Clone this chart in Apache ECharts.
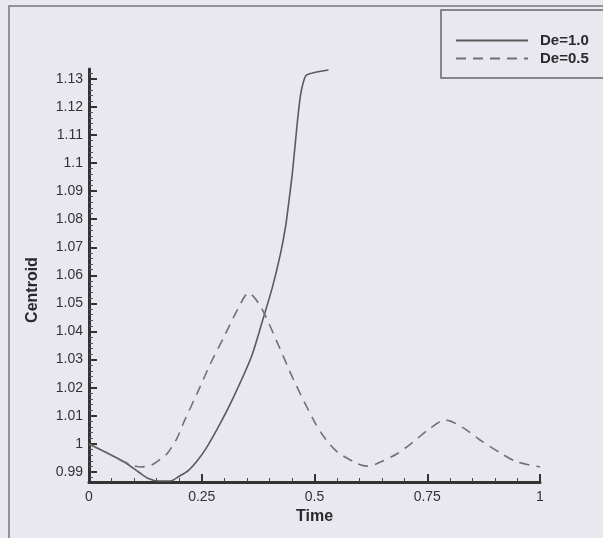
<!DOCTYPE html>
<html>
<head>
<meta charset="utf-8">
<script src="https://cdn.jsdelivr.net/npm/echarts@6/dist/echarts.min.js"></script>
<style>
html,body{margin:0;padding:0;background:#e9e8f1;}
#c{width:603px;height:538px;}
</style>
</head>
<body>
<div id="c"></div>
<script>
// De=1.0 (solid)
const timeDe10 = [0, 0.05, 0.08, 0.11, 0.13, 0.155, 0.18, 0.20, 0.22, 0.24, 0.26, 0.285, 0.32, 0.36, 0.385, 0.407, 0.425, 0.436, 0.443, 0.451, 0.462, 0.469, 0.476, 0.482, 0.50, 0.531];
const valDe10  = [1.000, 0.9960, 0.9934, 0.9900, 0.9878, 0.9868, 0.9868, 0.9885, 0.9905, 0.9940, 0.9985, 1.0055, 1.0165, 1.0310, 1.0440, 1.0560, 1.0680, 1.0775, 1.0860, 1.0965, 1.1146, 1.1242, 1.1292, 1.1313, 1.1322, 1.1331];
// De=0.5 (dashed)
const timeDe05 = [0, 0.04, 0.07, 0.095, 0.115, 0.14, 0.16, 0.174, 0.195, 0.211, 0.240, 0.270, 0.299, 0.330, 0.354, 0.381, 0.418, 0.454, 0.498, 0.524, 0.551, 0.595, 0.617, 0.639, 0.684, 0.719, 0.752, 0.790, 0.830, 0.867, 0.912, 0.949, 1.0];
const valDe05  = [1.000, 0.9968, 0.9942, 0.9925, 0.9918, 0.9926, 0.9948, 0.9967, 1.0020, 1.0080, 1.0181, 1.0288, 1.0380, 1.0480, 1.0537, 1.0487, 1.0359, 1.0227, 1.0085, 1.0018, 0.9971, 0.9930, 0.9921, 0.9930, 0.9966, 1.0007, 1.0050, 1.0085, 1.0057, 1.0014, 0.9968, 0.9936, 0.9918];

const yMajorTicks = [0.99, 1, 1.01, 1.02, 1.03, 1.04, 1.05, 1.06, 1.07, 1.08, 1.09, 1.1, 1.11, 1.12, 1.13];
const xTickLabels = ['0', '0.25', '0.5', '0.75', '1'];
const seriesNames = ['De=1.0', 'De=0.5'];

const yMin = 0.98644, yMax = 1.13346;
const yMinorTicks = [];
for (let i = 0; i < yMajorTicks.length; i++) {
  for (let k = -4; k <= 4; k++) {
    const v = +(yMajorTicks[i] + k * 0.002).toFixed(4);
    if (v > yMin && v < yMax && yMinorTicks.indexOf(v) < 0 && yMajorTicks.indexOf(v) < 0) yMinorTicks.push(v);
  }
}

const zip = (a, b) => a.map((t, i) => [t, b[i]]);
const font = 'Liberation Sans, Arial, sans-serif';

const chart = echarts.init(document.getElementById('c'), null, {renderer: 'canvas'});
chart.setOption({
  backgroundColor: '#e9e8f1',
  animation: false,
  grid: {left: 89, right: 63, top: 69, bottom: 56},
  legend: {
    orient: 'vertical',
    left: 450, top: 28,
    itemWidth: 72, itemHeight: 12, itemGap: 3,
    data: seriesNames,
    itemStyle: {opacity: 0},
    textStyle: {fontFamily: font, fontSize: 15, fontWeight: 'bold', color: '#2a2a2a', padding: [0, 0, 0, 7]}
  },
  graphic: [
    {type: 'rect', shape: {x: 9, y: 6, width: 620, height: 560}, style: {fill: 'none', stroke: '#777', lineWidth: 1.5}, silent: true},
    {type: 'rect', shape: {x: 441, y: 10, width: 180, height: 68}, style: {fill: 'none', stroke: '#666', lineWidth: 1.5}, silent: true}
  ],
  xAxis: {
    type: 'value', min: 0, max: 1, interval: 0.25,
    name: 'Time', nameLocation: 'middle', nameGap: 22,
    nameTextStyle: {fontFamily: font, fontSize: 16, fontWeight: 'bold', color: '#2a2a2a'},
    axisLine: {lineStyle: {color: '#333', width: 3}},
    axisTick: {inside: true, length: 8, lineStyle: {color: '#333', width: 2}},
    minorTick: {show: true, splitNumber: 5, length: 4, lineStyle: {color: '#444', width: 1}},
    splitLine: {show: false},
    axisLabel: {fontFamily: font, fontSize: 14, color: '#333', margin: 8,
      formatter: (v) => xTickLabels[Math.round(v / 0.25)]}
  },
  yAxis: [{
    type: 'value', min: yMin, max: yMax,
    name: 'Centroid', nameLocation: 'middle', nameGap: 48, nameRotate: 90,
    nameTextStyle: {fontFamily: font, fontSize: 16, fontWeight: 'bold', color: '#2a2a2a', padding: [0, 29, 0, 0]},
    axisLine: {show: true, lineStyle: {color: '#333', width: 3}},
    axisTick: {show: true, inside: true, length: 8, customValues: yMajorTicks, lineStyle: {color: '#333', width: 2}},
    splitLine: {show: false},
    axisLabel: {show: true, customValues: yMajorTicks, fontFamily: font, fontSize: 14, color: '#333', margin: 6,
      formatter: (v) => String(+(+v).toFixed(2))}
  }, {
    type: 'value', min: yMin, max: yMax, position: 'left',
    axisLine: {show: false},
    axisTick: {show: true, inside: true, length: 4, customValues: yMinorTicks, lineStyle: {color: '#555', width: 1}},
    axisLabel: {show: false},
    splitLine: {show: false}
  }],
  series: [{
    name: seriesNames[0], type: 'line', yAxisIndex: 0,
    data: zip(timeDe10, valDe10),
    showSymbol: false, symbol: 'none', smooth: 0.25,
    lineStyle: {color: '#5a5a5a', width: 1.6}, itemStyle: {color: '#5a5a5a'}
  }, {
    name: seriesNames[1], type: 'line', yAxisIndex: 0,
    data: zip(timeDe05, valDe05),
    showSymbol: false, symbol: 'none', smooth: 0.3,
    lineStyle: {color: '#707070', width: 1.6, type: [10, 7]}, itemStyle: {color: '#707070'}
  }]
});
</script>
</body>
</html>
